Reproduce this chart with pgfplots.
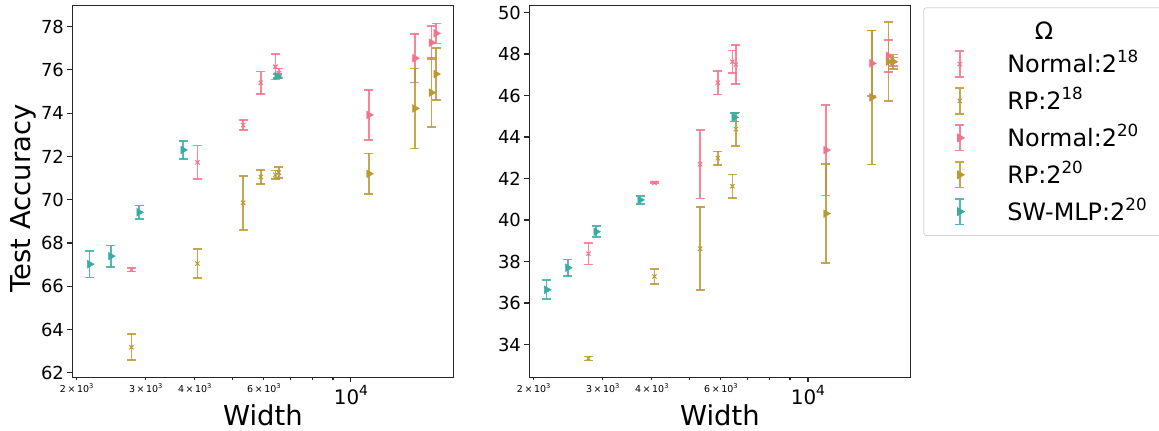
\documentclass[border=0pt]{standalone}
\usepackage{fontspec}
\setmainfont{DejaVu Sans}
\usepackage{pgfplots}
\pgfplotsset{compat=1.18}
\usepackage{pgfplotstable}
\definecolor{cpink}{HTML}{F77189}
\definecolor{cgold}{HTML}{BB9832}
\definecolor{cteal}{HTML}{36ADA4}
\newcommand{\sups}[1]{\raisebox{0.42em}{\scalebox{0.7}{#1}}}
\newcommand{\mlab}[1]{{\fontsize{9.5}{10}\selectfont #1\,×\,10\sups{3}}}

\pgfplotstableread{
x y e
2758 66.76 0.07
4064 71.73 0.78
5313 73.45 0.23
5894 75.41 0.52
6418 76.15 0.60
6551 75.85 0.22
}\LNa
\pgfplotstableread{
x y e
2758 63.18 0.60
4064 67.05 0.67
5313 69.86 1.25
5894 71.05 0.32
6418 71.15 0.20
6551 71.25 0.25
}\LRa
\pgfplotstableread{
x y e
11115 73.92 1.15
14554 76.54 1.12
16030 77.26 0.78
16476 77.69 0.46
}\LNb
\pgfplotstableread{
x y e
11115 71.20 0.94
14554 74.22 1.85
16030 74.95 1.60
16476 75.81 1.20
}\LRb
\pgfplotstableread{
x y e
2159 67.02 0.61
2443 67.39 0.49
2884 69.42 0.31
3734 72.30 0.42
6486 75.72 0.08
}\LSW
\pgfplotstableread{
x y e
2758 38.38 0.52
4064 41.79 0.03
5313 42.69 1.65
5894 46.62 0.57
6418 47.63 0.55
6551 47.49 0.94
}\RNa
\pgfplotstableread{
x y e
2758 33.33 0.10
4064 37.28 0.36
5313 38.62 2.00
5894 42.98 0.33
6418 41.63 0.57
6551 44.38 0.80
}\RRa
\pgfplotstableread{
x y e
11115 43.37 2.18
14554 47.55 1.58
16030 47.91 0.78
16476 47.63 0.20
}\RNb
\pgfplotstableread{
x y e
11115 40.31 2.38
14554 45.91 3.23
16030 47.63 1.90
16476 47.63 0.34
}\RRb
\pgfplotstableread{
x y e
2159 36.64 0.46
2443 37.70 0.39
2884 39.44 0.27
3734 40.97 0.20
6486 44.95 0.20
}\RSW

\pgfplotsset{
  myleg/.style={legend image code/.code={
      \draw[draw=#1, line width=1.6bp, opacity=0.85, solid]
        (0bp,-10.6bp) -- (0bp,15.1bp)
        (-4.5bp,-10.6bp) -- (4.5bp,-10.6bp)
        (-4.5bp,15.1bp) -- (4.5bp,15.1bp);
      \draw[##1] plot coordinates {(0bp,2.25bp)};
    }},
}

\begin{document}
\begin{tikzpicture}
\useasboundingbox (0,0) rectangle (1159bp,431bp);
\begin{axis}[xmode=log, scale only axis, width=381bp, height=371.6bp,
    at={(72.3bp,53.7bp)}, anchor=south west,
    xmin=1950, xmax=18236,
    ymin=61.79, ymax=78.97, ytick={62,64,...,78},
    axis line style={line width=1.1bp, black!85},
    tick style={line width=1.1bp, black!85},
    tick align=outside, xtick pos=left, ytick pos=left,
    major tick length=4.9bp, minor tick length=2.8bp,
    xtick={10000}, xticklabels={10\sups{4}},
    minor xtick={5000,7000,8000,9000},
    extra x ticks={2000,3000,4000,6000},
    extra x tick labels={\mlab{2},\mlab{3},\mlab{4},\mlab{6}},
    extra x tick style={major tick length=2.8bp},
    xticklabel style={font=\fontsize{20}{22}\selectfont},
    yticklabel style={font=\fontsize{18}{20}\selectfont, /pgf/number format/assume math mode=true},
    xlabel={Width},
    xlabel style={font=\fontsize{27.5}{30}\selectfont, inner sep=0pt, at={(axis description cs:0.5,0)}, anchor=base, yshift=-48bp},
    ylabel={Test Accuracy},
    ylabel style={font=\fontsize{27.5}{30}\selectfont, at={(axis description cs:-0.111,0.481)}, anchor=base},
    error bars/y dir=both, error bars/y explicit,
    error bars/error bar style={line width=1.6bp, opacity=0.85},
    error bars/error mark options={rotate=90, line width=1.6bp, mark size=4.5bp, opacity=0.85}]
\addplot[only marks, color=cpink, mark=x, mark size=3bp, mark options={line width=1bp}] table[x=x,y=y,y error=e]{\LNa};
\addplot[only marks, color=cgold, mark=x, mark size=3bp, mark options={line width=1bp}] table[x=x,y=y,y error=e]{\LRa};
\addplot[only marks, color=cpink, mark=triangle*, mark size=4.5bp, mark options={rotate=-90}] table[x=x,y=y,y error=e]{\LNb};
\addplot[only marks, color=cgold, mark=triangle*, mark size=4.5bp, mark options={rotate=-90}] table[x=x,y=y,y error=e]{\LRb};
\addplot[only marks, color=cteal, mark=triangle*, mark size=4.5bp, mark options={rotate=-90}] table[x=x,y=y,y error=e]{\LSW};
\end{axis}
\begin{axis}[xmode=log, scale only axis, width=381bp, height=371.6bp,
    at={(529.3bp,53.7bp)}, anchor=south west,
    xmin=1950, xmax=18236,
    ymin=32.42, ymax=50.33, ytick={34,36,...,50},
    axis line style={line width=1.1bp, black!85},
    tick style={line width=1.1bp, black!85},
    tick align=outside, xtick pos=left, ytick pos=left,
    major tick length=4.9bp, minor tick length=2.8bp,
    xtick={10000}, xticklabels={10\sups{4}},
    minor xtick={5000,7000,8000,9000},
    extra x ticks={2000,3000,4000,6000},
    extra x tick labels={\mlab{2},\mlab{3},\mlab{4},\mlab{6}},
    extra x tick style={major tick length=2.8bp},
    xticklabel style={font=\fontsize{20}{22}\selectfont},
    yticklabel style={font=\fontsize{18}{20}\selectfont, /pgf/number format/assume math mode=true},
    xlabel={Width},
    xlabel style={font=\fontsize{27.5}{30}\selectfont, inner sep=0pt, at={(axis description cs:0.5,0)}, anchor=base, yshift=-48bp},
    error bars/y dir=both, error bars/y explicit,
    error bars/error bar style={line width=1.6bp, opacity=0.85},
    error bars/error mark options={rotate=90, line width=1.6bp, mark size=4.5bp, opacity=0.85},
    legend cell align=left,
    legend style={at={(1.034,0.9957)}, anchor=north west, draw=black!18, line width=0.8bp,
      rounded corners=3bp, inner xsep=30.8bp, inner ysep=10.2bp,
      column sep=42.2bp, row sep=9.5bp,
      font=\fontsize{24}{28}\selectfont,
      nodes={inner sep=0pt, text height=18bp, text depth=5bp}}]
\addlegendimage{empty legend}
\addlegendentry{\hspace*{27.5bp}\raisebox{-3.5bp}{Ω}}
\addplot[only marks, color=cpink, mark=x, mark size=3bp, mark options={line width=1bp}, myleg=cpink] table[x=x,y=y,y error=e]{\RNa};
\addlegendentry{Normal:2\sups{18}}
\addplot[only marks, color=cgold, mark=x, mark size=3bp, mark options={line width=1bp}, myleg=cgold] table[x=x,y=y,y error=e]{\RRa};
\addlegendentry{RP:2\sups{18}}
\addplot[only marks, color=cpink, mark=triangle*, mark size=4.5bp, mark options={rotate=-90}, myleg=cpink] table[x=x,y=y,y error=e]{\RNb};
\addlegendentry{Normal:2\sups{20}}
\addplot[only marks, color=cgold, mark=triangle*, mark size=4.5bp, mark options={rotate=-90}, myleg=cgold] table[x=x,y=y,y error=e]{\RRb};
\addlegendentry{RP:2\sups{20}}
\addplot[only marks, color=cteal, mark=triangle*, mark size=4.5bp, mark options={rotate=-90}, myleg=cteal] table[x=x,y=y,y error=e]{\RSW};
\addlegendentry{SW-MLP:2\sups{20}}
\end{axis}
\end{tikzpicture}
\end{document}
